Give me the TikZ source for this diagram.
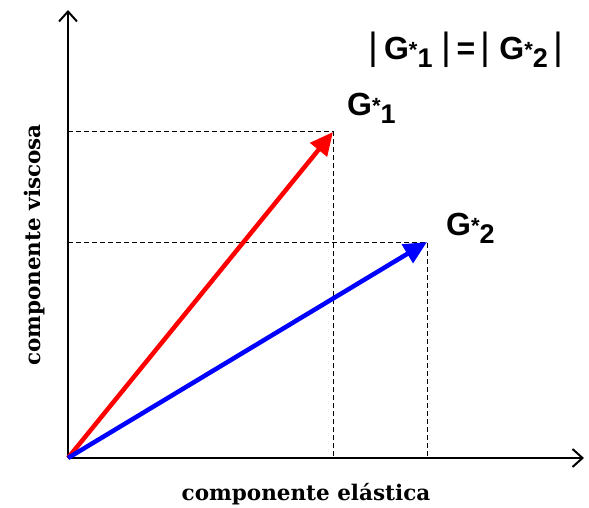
\documentclass[tikz,border=0pt]{standalone}
\usepackage{fontspec}
\setmainfont{Liberation Sans}
\newfontfamily\axisfont{DejaVu Serif}
\usetikzlibrary{arrows.meta}

% G* with superscript star and subscript index
\newcommand{\gstar}[1]{G\raisebox{2pt}{\fontsize{22}{22}\selectfont *}\raisebox{-8pt}{\fontsize{27}{27}\selectfont #1}}
% tall thin bar for the modulus
\newcommand{\modbar}{{\mdseries\fontsize{38}{38}\selectfont|}}

\begin{document}
\begin{tikzpicture}[x=1pt, y=-1pt,
  axis/.style={line width=2pt, -{Straight Barb[length=10pt, width=18pt]}},
  vec/.style={line width=4.5pt, -{Triangle[length=23pt, width=21pt]}},
  guide/.style={line width=1pt, dash pattern=on 5pt off 3pt},
  glabel/.style={font=\bfseries\fontsize{32}{34}\selectfont, inner sep=0pt},
  axislabel/.style={font=\axisfont\bfseries\fontsize{21.5}{24}\selectfont, inner sep=0pt}]
  \useasboundingbox (0,0) rectangle (589,508);
  % Axes
  \coordinate (O) at (68,458);
  \coordinate (xend) at (584,458);
  \coordinate (yend) at (68,10);
  \draw[axis] (O) -- (xend);
  \draw[axis] (O) -- (yend);
  % Vector tips and their projections
  \coordinate (G1) at (333,132);
  \coordinate (G2) at (427,242);
  \draw[guide] (G1 -| O) -- (G1) -- (G1 |- O);
  \draw[guide] (G2 -| O) -- (G2) -- (G2 |- O);
  % Vectors
  \draw[vec, red] (O) -- (G1);
  \draw[vec, blue] (O) -- (G2);
  % Labels
  \node[glabel, anchor=west] (lab1) at (347,108) {\gstar{1}};
  \node[glabel, anchor=west] (lab2) at (446,228) {\gstar{2}};
  \node[glabel] (modeq) at (466,50) {\modbar\,\gstar{1}\;\modbar\,=\,\modbar\;\gstar{2}\,\modbar};
  \node[axislabel] (xlab) at (306,494) {componente elástica};
  \node[axislabel, rotate=90] (ylab) at (35,245) {componente viscosa};
\end{tikzpicture}
\end{document}
